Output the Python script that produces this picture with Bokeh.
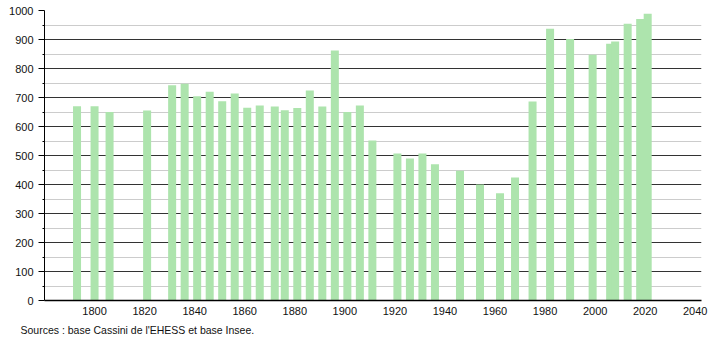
from bokeh.plotting import figure
from bokeh.models import Range1d, FixedTicker, Title
from bokeh.embed import file_html
from bokeh.resources import INLINE

years = [1793, 1800, 1806, 1821, 1831, 1836, 1841, 1846, 1851, 1856, 1861, 1866,
         1872, 1876, 1881, 1886, 1891, 1896, 1901, 1906, 1911, 1921, 1926, 1931,
         1936, 1946, 1954, 1962, 1968, 1975, 1982, 1990, 1999, 2006, 2008, 2013,
         2018, 2021]
population = [670, 670, 650, 655, 742, 747, 704, 720, 687, 714, 665, 672,
              669, 656, 664, 724, 669, 862, 650, 672, 552, 507, 490, 507,
              470, 447, 400, 370, 424, 686, 937, 902, 847, 885, 893, 954,
              971, 989]
x_ticks = [1800, 1820, 1840, 1860, 1880, 1900, 1920, 1940, 1960, 1980, 2000, 2020, 2040]
y_ticks = [0, 100, 200, 300, 400, 500, 600, 700, 800, 900, 1000]
source_text = "Sources : base Cassini de l'EHESS et base Insee."

p = figure(width=710, height=340, output_backend="svg", toolbar_location=None,
           x_range=Range1d(1780, 2042.5), y_range=Range1d(0, 1000),
           min_border_left=44, min_border_right=9, min_border_top=10,
           min_border_bottom=0)
p.outline_line_color = None
p.background_fill_color = "white"
p.border_fill_color = "white"

p.vbar(x=years, top=population, width=3.2, bottom=0, fill_color="#ade4ad",
       line_color=None)

font = "Liberation Sans"
p.xaxis.ticker = FixedTicker(ticks=x_ticks)
p.xaxis.major_tick_line_color = None
p.xaxis.minor_tick_line_color = None
p.xaxis.axis_line_color = "black"
p.xaxis.axis_line_width = 1.5
p.xaxis.major_label_text_font = font
p.xaxis.major_label_text_font_size = "11px"
p.xaxis.major_label_text_color = "#111"
p.xaxis.major_label_standoff = 0

p.yaxis.ticker = FixedTicker(ticks=y_ticks, minor_ticks=list(range(50, 1000, 100)))
p.yaxis.major_tick_out = 6
p.yaxis.major_tick_in = 0
p.yaxis.minor_tick_out = 2
p.yaxis.minor_tick_in = 0
p.yaxis.axis_line_color = "black"
p.yaxis.major_label_text_font = font
p.yaxis.major_label_text_font_size = "11px"
p.yaxis.major_label_text_color = "#111"
p.yaxis.major_label_standoff = 5

p.xgrid.grid_line_color = None
p.ygrid.grid_line_color = "#333333"
p.ygrid.grid_line_width = 1
p.ygrid.minor_grid_line_color = "#cccccc"
p.ygrid.minor_grid_line_width = 1

p.add_layout(Title(text=source_text, align="left", offset=-24, standoff=9,
                   text_font=font, text_font_size="10.5px", text_font_style="normal",
                   text_color="#111"), "below")

open("out.html", "w").write(file_html(p, INLINE))
